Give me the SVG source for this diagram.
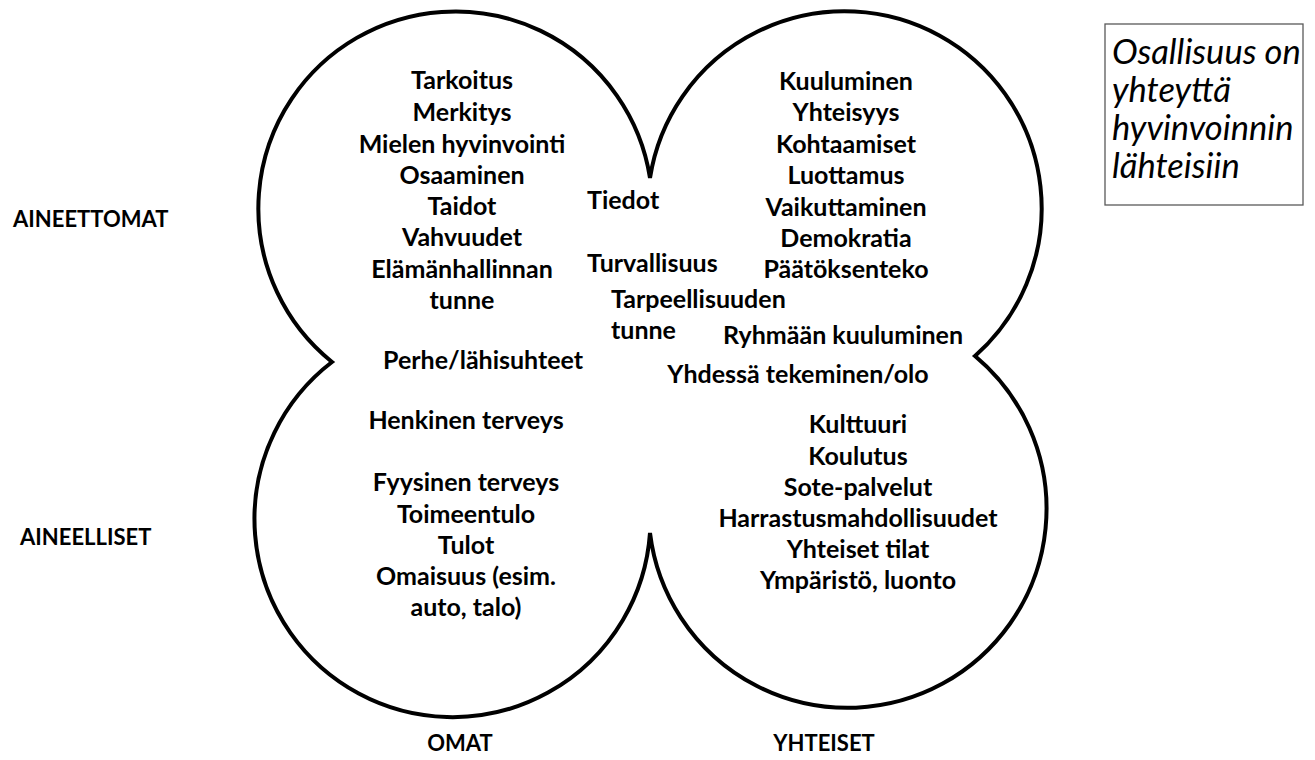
<svg xmlns="http://www.w3.org/2000/svg" width="1315" height="760" viewBox="0 0 1315 760">
<style>
.b{font-family:Lato,"Liberation Sans",sans-serif;font-weight:bold;font-size:25px;fill:#000}
.m{text-anchor:middle}
.lab{font-size:22px}
.i{font-family:Lato,"Liberation Sans",sans-serif;font-style:italic;font-size:34.5px;fill:#000}
.shape{fill:none;stroke:#000;stroke-width:4}
</style>
<rect width="1315" height="760" fill="#fff"/>
<g id="connectors"></g>
<g id="clover">
<path class="shape" d="M 650 178 A 197 197 0 1 1 975 356 A 199 199 0 1 1 650 533 A 198 198 0 1 1 332 362 A 197 197 0 1 1 650 178 Z"/>
</g>
<g id="omat-aineettomat" class="b m">
<text x="462" y="89">Tarkoitus</text>
<text x="462" y="121">Merkitys</text>
<text x="462" y="152.5">Mielen hyvinvointi</text>
<text x="462" y="184">Osaaminen</text>
<text x="462" y="215">Taidot</text>
<text x="462" y="246">Vahvuudet</text>
<text x="462" y="277.5">Elämänhallinnan</text>
<text x="462" y="308.5">tunne</text>
</g>
<g id="keskiosa" class="b">
<text x="587" y="209">Tiedot</text>
<text x="587" y="272">Turvallisuus</text>
<text x="611" y="307.5">Tarpeellisuuden</text>
<text x="611" y="338.5">tunne</text>
<text x="383" y="368.5">Perhe/lähisuhteet</text>
</g>
<g id="yhteiset-aineettomat" class="b m">
<text x="846" y="90">Kuuluminen</text>
<text x="846" y="121">Yhteisyys</text>
<text x="846" y="152.5">Kohtaamiset</text>
<text x="846" y="184">Luottamus</text>
<text x="846" y="216">Vaikuttaminen</text>
<text x="846" y="247">Demokratia</text>
<text x="846" y="278">Päätöksenteko</text>
<text x="843" y="344">Ryhmään kuuluminen</text>
<text x="798" y="383">Yhdessä tekeminen/olo</text>
</g>
<g id="yhteiset-aineelliset" class="b m">
<text x="858" y="433">Kulttuuri</text>
<text x="858" y="464.5">Koulutus</text>
<text x="858" y="495.5">Sote-palvelut</text>
<text x="858" y="527">Harrastusmahdollisuudet</text>
<text x="858" y="558">Yhteiset tilat</text>
<text x="858" y="589">Ympäristö, luonto</text>
</g>
<g id="omat-aineelliset" class="b m">
<text x="466" y="428.5">Henkinen terveys</text>
<text x="466" y="491">Fyysinen terveys</text>
<text x="466" y="522.5">Toimeentulo</text>
<text x="466" y="554">Tulot</text>
<text x="466" y="585">Omaisuus (esim.</text>
<text x="466" y="616">auto, talo)</text>
</g>
<g id="labels" class="b lab">
<text x="13" y="227">AINEETTOMAT</text>
<text x="20" y="545">AINEELLISET</text>
<text x="460" y="751" class="m">OMAT</text>
<text x="824" y="751" class="m">YHTEISET</text>
</g>
<g id="note">
<rect x="1105" y="24" width="198" height="181" fill="#fff" stroke="#595959" stroke-width="1.3"/>
<text class="i" x="1112" y="64">Osallisuus on</text>
<text class="i" x="1112" y="102">yhteyttä</text>
<text class="i" x="1112" y="140">hyvinvoinnin</text>
<text class="i" x="1112" y="178">lähteisiin</text>
</g>
</svg>
